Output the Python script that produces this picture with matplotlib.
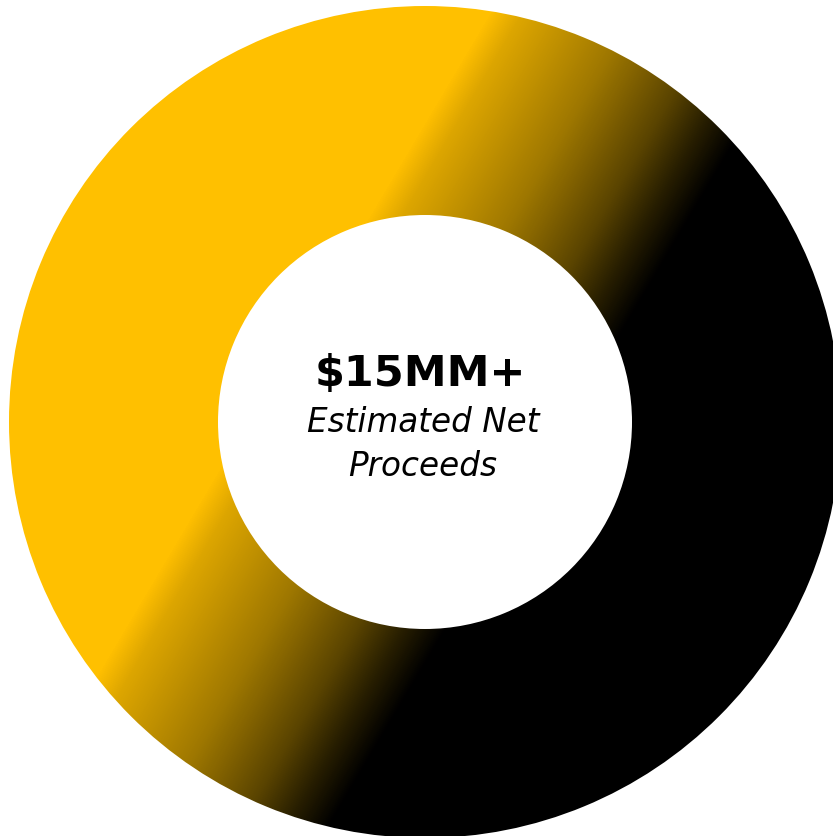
import matplotlib.pyplot as plt
import numpy as np
from matplotlib.colors import LinearSegmentedColormap

# chart content
values = [100]
headline = "$15MM+"
caption = ["Estimated Net", "Proceeds"]
ring_stops = [(0.0, "#FFC000"), (0.1, "#DDA600"), (0.45, "#9E7700"),
              (0.72, "#5A4400"), (0.86, "#2A2000"), (1.0, "#000000")]

W, H = 833, 836
fig = plt.figure(figsize=(W / 100, H / 100), dpi=100)
ax = fig.add_axes([0, 0, 1, 1])

cx, cy, r_out, r_in = 425, 422, 416, 207
wedges, _ = ax.pie(values, center=(cx, cy), radius=r_out, startangle=90,
                   wedgeprops=dict(width=r_out - r_in, linewidth=0))

# diagonal yellow -> black gradient clipped to the ring
xx, yy = np.meshgrid(np.arange(W), np.arange(H))
t = np.clip((0.86 * xx + 0.51 * yy - 427) / 277, 0, 1)
cmap = LinearSegmentedColormap.from_list("ring", ring_stops)
img = ax.imshow(t, cmap=cmap, extent=(0, W, H, 0), origin="upper",
                interpolation="bilinear", zorder=2)
img.set_clip_path(wedges[0])
wedges[0].set_facecolor("none")

ax.set_xlim(0, W)
ax.set_ylim(H, 0)
ax.set_aspect("equal")
ax.axis("off")

ax.text(cx - 5, 386, headline, ha="center", va="baseline",
        fontsize=31, fontweight="bold", color="black", zorder=3)
ax.text(cx - 2, 432, caption[0], ha="center", va="baseline",
        fontsize=23.5, style="italic", color="black", zorder=3)
ax.text(cx - 2, 476, caption[1], ha="center", va="baseline",
        fontsize=23.5, style="italic", color="black", zorder=3)

fig.savefig("out.png", dpi=100)
